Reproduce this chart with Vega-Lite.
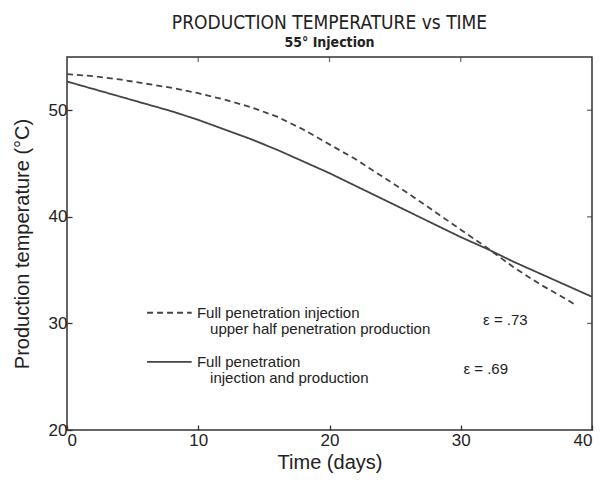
{
  "$schema": "https://vega.github.io/schema/vega-lite/v6.json",
  "width": 525,
  "height": 373,
  "autosize": {"type": "none"},
  "padding": {"left": 67, "top": 57, "right": 11, "bottom": 53},
  "background": "white",
  "config": {
    "font": "Liberation Sans",
    "view": {"stroke": "#333", "strokeWidth": 1.5},
    "axis": {"grid": false, "domain": false, "tickColor": "#333", "tickSize": -5, "tickWidth": 1.3, "labelColor": "#222", "titleColor": "#222", "labelFont": "Liberation Sans", "titleFont": "Liberation Sans", "titleFontWeight": "normal", "labelFontSize": 17, "titleFontSize": 19}
  },
  "title": {
    "text": "PRODUCTION TEMPERATURE vs TIME",
    "subtitle": "55° Injection",
    "anchor": "middle",
    "font": "DejaVu Sans Condensed, Liberation Sans Narrow, Liberation Sans",
    "fontSize": 19,
    "fontWeight": "normal",
    "color": "#222",
    "subtitleFont": "DejaVu Sans Condensed, Liberation Sans Narrow, Liberation Sans",
    "subtitleFontSize": 14,
    "subtitleFontWeight": "bold",
    "subtitleColor": "#222",
    "subtitlePadding": 3,
    "offset": 7
  },
  "datasets": {
    "curves": [
      {"series": "upper", "t": 0, "temp": 53.4},
      {"series": "upper", "t": 2, "temp": 53.2},
      {"series": "upper", "t": 4, "temp": 52.9},
      {"series": "upper", "t": 6, "temp": 52.5},
      {"series": "upper", "t": 8, "temp": 52.1},
      {"series": "upper", "t": 10, "temp": 51.6},
      {"series": "upper", "t": 12, "temp": 51.0},
      {"series": "upper", "t": 14, "temp": 50.3},
      {"series": "upper", "t": 16, "temp": 49.4},
      {"series": "upper", "t": 18, "temp": 48.2},
      {"series": "upper", "t": 20, "temp": 46.8},
      {"series": "upper", "t": 22, "temp": 45.4},
      {"series": "upper", "t": 24, "temp": 43.8},
      {"series": "upper", "t": 26, "temp": 42.2},
      {"series": "upper", "t": 28, "temp": 40.5},
      {"series": "upper", "t": 30, "temp": 38.8},
      {"series": "upper", "t": 32, "temp": 37.1},
      {"series": "upper", "t": 34, "temp": 35.3},
      {"series": "upper", "t": 36, "temp": 33.7},
      {"series": "upper", "t": 38, "temp": 32.3},
      {"series": "upper", "t": 38.8, "temp": 31.7},
      {"series": "full", "t": 0, "temp": 52.7},
      {"series": "full", "t": 2, "temp": 52.0},
      {"series": "full", "t": 4, "temp": 51.3},
      {"series": "full", "t": 6, "temp": 50.6},
      {"series": "full", "t": 8, "temp": 49.9},
      {"series": "full", "t": 10, "temp": 49.1},
      {"series": "full", "t": 12, "temp": 48.2},
      {"series": "full", "t": 14, "temp": 47.3},
      {"series": "full", "t": 16, "temp": 46.3},
      {"series": "full", "t": 18, "temp": 45.2},
      {"series": "full", "t": 20, "temp": 44.1},
      {"series": "full", "t": 22, "temp": 42.9},
      {"series": "full", "t": 24, "temp": 41.7},
      {"series": "full", "t": 26, "temp": 40.5},
      {"series": "full", "t": 28, "temp": 39.3},
      {"series": "full", "t": 30, "temp": 38.1},
      {"series": "full", "t": 32, "temp": 37.0},
      {"series": "full", "t": 34, "temp": 35.8},
      {"series": "full", "t": 36, "temp": 34.7},
      {"series": "full", "t": 38, "temp": 33.6},
      {"series": "full", "t": 40, "temp": 32.5}
    ],
    "keys": [
      {"series": "upper", "t": 6.1, "temp": 31.0},
      {"series": "upper", "t": 9.5, "temp": 31.0},
      {"series": "full", "t": 6.1, "temp": 26.4},
      {"series": "full", "t": 9.5, "temp": 26.4}
    ],
    "labels": [
      {"t": 9.9, "temp": 31.0, "label": "Full penetration injection"},
      {"t": 10.9, "temp": 29.5, "label": "upper half penetration production"},
      {"t": 9.9, "temp": 26.4, "label": "Full penetration"},
      {"t": 10.9, "temp": 24.9, "label": "injection and production"},
      {"t": 31.7, "temp": 30.3, "label": "ε = .73"},
      {"t": 30.2, "temp": 25.7, "label": "ε = .69"}
    ],
    "topticks": [{"t": 10}, {"t": 20}, {"t": 30}],
    "rightticks": [{"temp": 30}, {"temp": 40}, {"temp": 50}]
  },
  "layer": [
    {
      "data": {"name": "curves"},
      "mark": {"type": "line", "color": "#444", "strokeWidth": 1.8},
      "encoding": {
        "x": {"field": "t", "type": "quantitative", "scale": {"domain": [0, 40], "nice": false}, "axis": {"values": [0, 10, 20, 30, 40], "title": "Time (days)", "labelPadding": 7, "titlePadding": 4, "titleFontSize": 20}},
        "y": {"field": "temp", "type": "quantitative", "scale": {"domain": [20, 55], "nice": false}, "axis": {"values": [20, 30, 40, 50], "title": "Production temperature (°C)", "labelPadding": 5, "titlePadding": 16, "titleFontSize": 20}},
        "strokeDash": {"field": "series", "type": "nominal", "scale": {"domain": ["upper", "full"], "range": [[6, 4], [1, 0]]}, "legend": null},
        "detail": {"field": "series"}
      }
    },
    {
      "data": {"name": "keys"},
      "mark": {"type": "line", "color": "#444", "strokeWidth": 1.8},
      "encoding": {
        "x": {"field": "t", "type": "quantitative"},
        "y": {"field": "temp", "type": "quantitative"},
        "strokeDash": {"field": "series", "type": "nominal", "scale": {"domain": ["upper", "full"], "range": [[6, 4], [1, 0]]}, "legend": null},
        "detail": {"field": "series"}
      }
    },
    {
      "data": {"name": "labels"},
      "mark": {"type": "text", "align": "left", "baseline": "middle", "fontSize": 15, "color": "#222", "font": "Liberation Sans"},
      "encoding": {
        "x": {"field": "t", "type": "quantitative"},
        "y": {"field": "temp", "type": "quantitative"},
        "text": {"field": "label"}
      }
    },
    {
      "data": {"name": "topticks"},
      "mark": {"type": "tick", "orient": "vertical", "color": "#333", "size": 10, "thickness": 1.3, "clip": true},
      "encoding": {
        "x": {"field": "t", "type": "quantitative"},
        "y": {"datum": 55, "type": "quantitative"}
      }
    },
    {
      "data": {"name": "rightticks"},
      "mark": {"type": "tick", "orient": "horizontal", "color": "#333", "size": 10, "thickness": 1.3, "clip": true},
      "encoding": {
        "x": {"datum": 40, "type": "quantitative"},
        "y": {"field": "temp", "type": "quantitative"}
      }
    }
  ]
}
